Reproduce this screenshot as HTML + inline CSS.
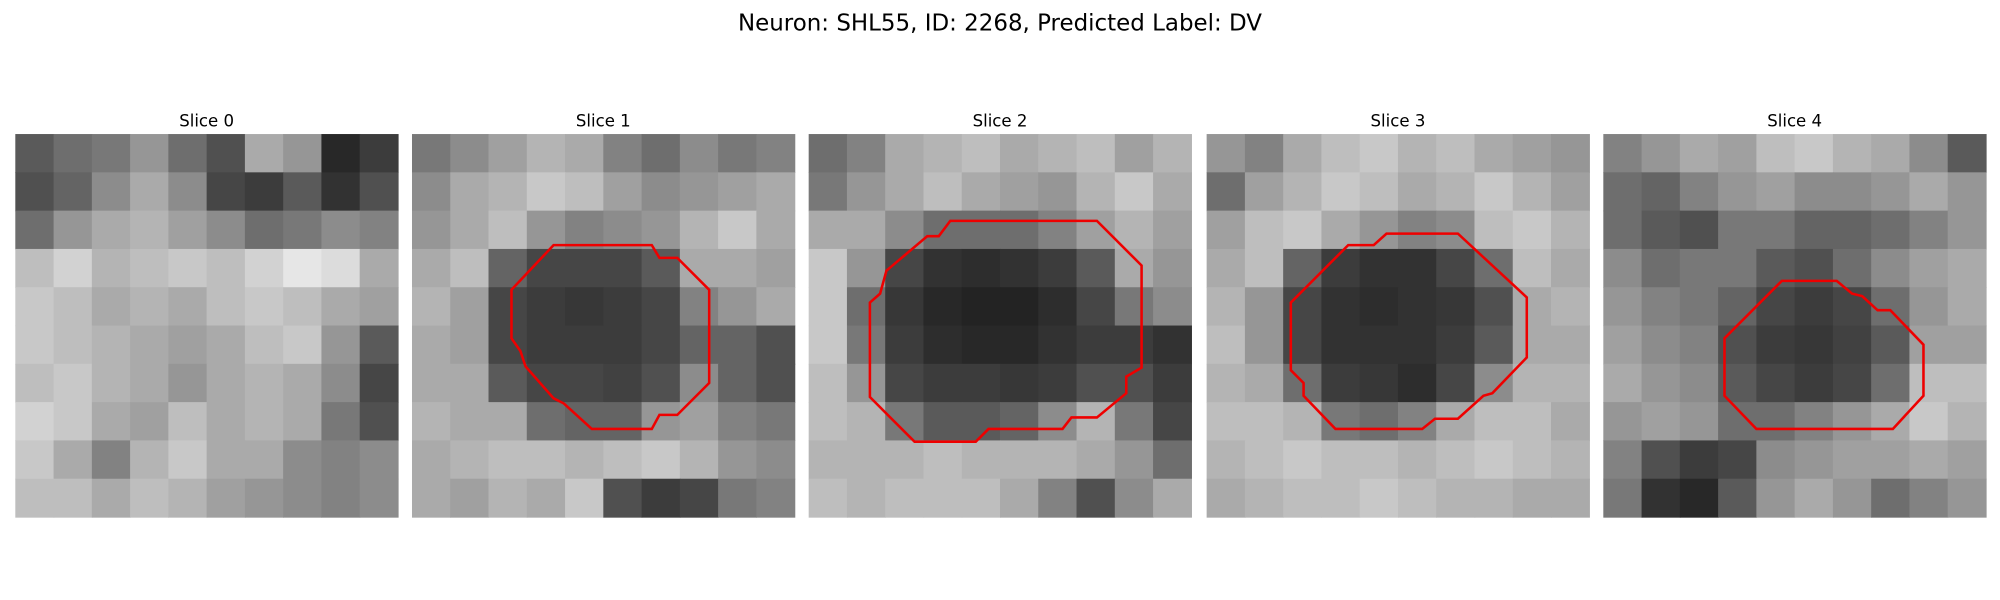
<!DOCTYPE html>
<html><head><meta charset="utf-8"><style>
html,body{margin:0;padding:0;background:#fff;}
svg{display:block;}
text{font-family:"DejaVu Sans","Liberation Sans",sans-serif;}
</style></head><body>
<svg id="fig" width="2000" height="600" viewBox="0 0 1568 470" preserveAspectRatio="none" xmlns="http://www.w3.org/2000/svg">
<rect width="1568" height="470" fill="#fff"/>
<text x="784" y="24" text-anchor="middle" font-size="18" fill="#000">Neuron: SHL55, ID: 2268, Predicted Label: DV</text>
<g id="panels"></g>
</svg>
<script>
const sliceTitles = ["Slice 0","Slice 1","Slice 2","Slice 3","Slice 4"];
const slice0 = [
[90,110,120,150,110,80,170,150,40,60],[80,100,140,170,140,70,60,90,50,80],
[110,150,170,180,160,140,110,120,140,130],[190,210,180,190,200,190,210,230,220,170],
[200,190,170,180,170,190,200,190,170,160],[200,190,180,170,160,170,190,200,150,90],
[190,200,180,170,150,170,180,170,140,70],[210,200,170,160,190,170,180,170,120,80],
[200,170,130,180,200,170,170,140,130,140],[190,190,170,190,180,160,150,140,130,140]];
const slice1 = [
[120,140,160,180,170,130,110,140,120,130],[140,170,180,200,190,160,140,150,160,170],
[150,170,190,150,130,140,150,180,200,170],[170,190,100,70,70,70,90,170,170,160],
[180,160,70,60,55,60,70,130,150,170],[170,160,70,60,60,60,70,100,100,80],
[170,170,90,70,70,65,80,140,100,80],[180,170,170,110,100,100,150,160,130,120],
[170,180,190,190,180,190,200,180,150,140],[170,160,180,170,200,80,60,70,120,130]];
const slice2 = [
[110,130,170,180,190,170,180,190,160,180],[120,150,170,190,170,160,150,180,200,170],
[170,170,140,110,110,110,130,160,180,160],[200,150,70,50,45,50,60,90,170,150],
[200,110,55,40,35,35,45,70,120,140],[200,120,60,45,40,40,50,60,60,50],
[190,150,70,60,60,55,60,80,80,60],[190,180,120,90,90,100,140,180,120,70],
[180,180,180,190,180,180,180,170,150,110],[190,180,190,190,190,170,130,80,140,170]];
const slice3 = [
[150,130,170,190,200,180,190,170,160,150],[110,160,180,200,190,170,180,200,180,160],
[160,190,200,170,150,130,140,190,200,180],[170,190,100,60,50,50,70,110,190,170],
[180,150,70,50,45,50,55,80,170,180],[190,150,70,50,50,50,60,90,170,170],
[180,170,110,60,55,45,70,140,180,180],[190,190,180,120,110,130,170,190,190,170],
[180,190,200,190,190,180,190,200,190,180],[170,180,190,190,200,190,180,180,170,170]];
const slice4 = [
[130,150,170,160,190,200,180,170,140,90],[110,100,130,150,160,140,140,150,170,150],
[110,90,80,120,120,100,100,110,130,150],[140,110,120,120,90,80,110,140,160,170],
[150,130,120,100,70,60,70,110,150,170],[160,140,130,80,60,55,65,90,160,160],
[170,150,140,90,70,60,70,110,190,190],[150,160,150,110,110,130,150,170,200,180],
[130,80,60,70,140,150,160,160,170,160],[120,50,40,90,150,170,150,110,130,150]];
const sliceImages = [slice0,slice1,slice2,slice3,slice4];
// contours in panel-relative data coords (0..300)
const contour1 = [[111,87],[188,87],[194,97],[208,97],[233,122],[233,195],[208,220],[194,220],[188,231],[141,231],[119,211],[111,207],[89,182],[85,170],[78,160],[78,122]];
const contour2 = [[111,68],[226,68],[261,103],[261,183],[249,190],[249,203],[226,222],[206,222],[199,231],[141,231],[131,241],[83,241],[48,206],[48,132],[56,125],[61,107],[93,80],[102,80]];
const contour3 = [[141,78],[197,78],[251,128],[251,175],[224,203],[217,205],[197,223],[179,223],[169,231],[101,231],[76,205],[76,195],[66,185],[66,132],[111,87],[131,87]];
const contour4 = [[140,115],[183,115],[195,125],[203,127],[215,138],[225,138],[251,165],[251,205],[227,231],[120,231],[95,205],[95,160]];
const contours = [null,contour1,contour2,contour3,contour4];

const panelX = [12,323,634,946,1257], panelY = 105, panelSize = 300;
const NS = "http://www.w3.org/2000/svg";
const g = document.getElementById('panels');
sliceImages.forEach((img, p) => {
  const pg = document.createElementNS(NS,'g');
  
  
  const n = img.length, cs = panelSize / n;
  img.forEach((row, r) => row.forEach((v, c) => {
    const rc = document.createElementNS(NS,'rect');
    
    
    rc.setAttribute('x', panelX[p] + c*cs);
    rc.setAttribute('y', panelY + r*cs);
    rc.setAttribute('width', cs + 0.5);
    rc.setAttribute('height', cs + 0.5);
    rc.setAttribute('fill', `rgb(${v},${v},${v})`);
    pg.appendChild(rc);
  }));
  const t = document.createElementNS(NS,'text');
  
  
  t.setAttribute('x', panelX[p] + panelSize/2);
  t.setAttribute('y', 99);
  t.setAttribute('text-anchor', 'middle');
  t.setAttribute('font-size', '13');
  t.textContent = sliceTitles[p];
  pg.appendChild(t);
  if (contours[p]) {
    const pl = document.createElementNS(NS,'polygon');
    
    
    pl.setAttribute('points', contours[p].map(pt => (panelX[p]+pt[0]) + ',' + (panelY+pt[1])).join(' '));
    pl.setAttribute('fill', 'none');
    pl.setAttribute('stroke', '#ee0000');
    pl.setAttribute('stroke-width', '2');
    pg.appendChild(pl);
  }
  g.appendChild(pg);
});
</script>
</body></html>
